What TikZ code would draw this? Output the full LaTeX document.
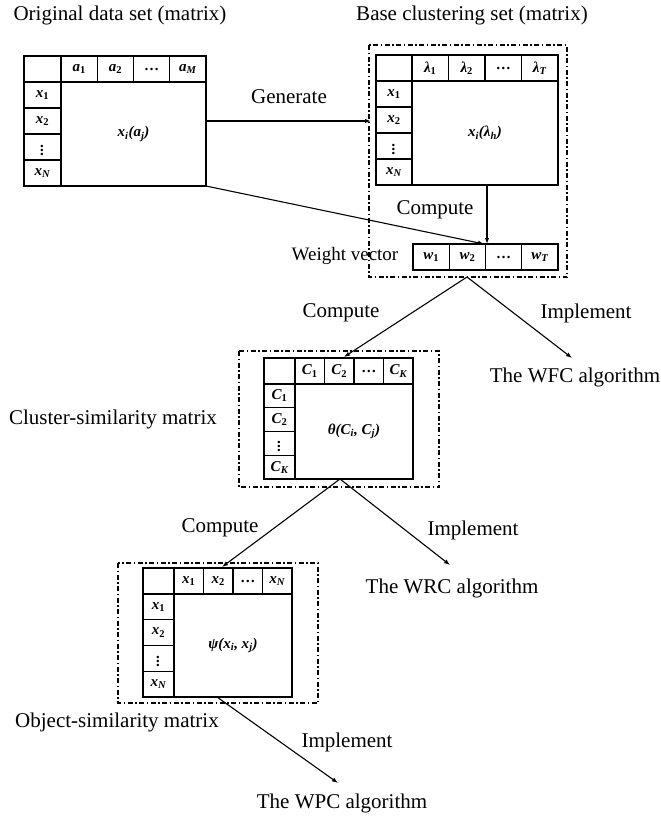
\documentclass[tikz,border=0pt]{standalone}
\usepackage{fontspec}
\setmainfont{Liberation Serif}
\usepackage{amsmath}
\usetikzlibrary{arrows.meta}
\tikzset{
 lbl/.style={font=\fontsize{21}{24}\selectfont, inner sep=0pt},
 cell/.style={font=\fontsize{15}{17}\selectfont\bfseries\itshape, inner sep=0pt},
 grid/.style={line width=1.1pt},
 dashbox/.style={line width=1.3pt, dash pattern=on 5pt off 2.5pt on 1.5pt off 2.5pt},
 conn/.style={line width=1.1pt, -{Latex[length=6pt,width=4.5pt]}},
}
\newcommand\mydots{\textbf{\upshape\textellipsis}}
\newcommand\ssb[1]{\textsubscript{#1}}
\newcommand\ssd[1]{\textsubscript{\upshape #1}}
\newcommand\vd{$\vdots$}
% #1 name, #2 left, #3 top, #4 header labels, #5 row labels
\newcommand\mgrid[5]{%
 \begin{scope}[shift={(#2,#3)}]
  \draw[grid] (0,0) rectangle ({\mgFW+4*\mgCW},{\mgHH+4*\mgRH});
  \draw[grid] (\mgFW,0) -- (\mgFW,{\mgHH+4*\mgRH});
  \draw[grid] (0,\mgHH) -- ({\mgFW+4*\mgCW},\mgHH);
  \foreach \k in {1,2,3} {
    \draw[grid] ({\mgFW+\k*\mgCW},0) -- ({\mgFW+\k*\mgCW},\mgHH);
    \draw[grid] (0,{\mgHH+\k*\mgRH}) -- (\mgFW,{\mgHH+\k*\mgRH});
  }
  \foreach \lab [count=\k] in {#4}
    \node[cell] (#1-h\k) at ({\mgFW+(\k-0.5)*\mgCW},{\mgHH/2}) {\lab};
  \foreach \lab [count=\k] in {#5}
    \node[cell] (#1-r\k) at ({\mgFW/2},{\mgHH+(\k-0.5)*\mgRH}) {\lab};
  \coordinate (#1-c) at ({\mgFW+2*\mgCW},{\mgHH+2*\mgRH});
  \coordinate (#1-nw) at (0,0);
  \coordinate (#1-se) at ({\mgFW+4*\mgCW},{\mgHH+4*\mgRH});
 \end{scope}}
\begin{document}
\begin{tikzpicture}[x=1pt,y=-1pt]
\useasboundingbox (0,0) rectangle (661,817);

% ---------- top-left matrix
\def\mgFW{37}\def\mgCW{36.25}\def\mgHH{26}\def\mgRH{26}
\mgrid{A}{24}{56}{{a\ssd{1}},{a\ssd{2}},{\mydots},{a\ssb{M}}}{{x\ssd{1}},{x\ssd{2}},{\vd},{x\ssb{N}}}
\node[cell] (Ac) at (A-c) {x\ssb{i}(a\ssb{j})};
\node[lbl] (tA) at (120,15) {Original data set (matrix)};

% ---------- top-right matrix
\def\mgFW{36}\def\mgCW{36.5}\def\mgHH{26}\def\mgRH{26}
\mgrid{B}{376}{55}{{λ\ssd{1}},{λ\ssd{2}},{\mydots},{λ\ssb{T}}}{{x\ssd{1}},{x\ssd{2}},{\vd},{x\ssb{N}}}
\node[cell] (Bc) at (B-c) {x\ssb{i}(λ\ssb{h})};
\node[lbl] (tB) at (472,15) {Base clustering set (matrix)};
\draw[dashbox] (369,45) rectangle (567,277);
\coordinate (Bbot) at (467,277);

% weight vector
\begin{scope}[shift={(413,244)}]
 \draw[grid] (0,0) rectangle (145,26);
 \foreach \k in {1,2,3} \draw[grid] ({\k*36.25},0) -- ({\k*36.25},26);
 \foreach \lab [count=\k] in {{w\ssd{1}},{w\ssd{2}},{\mydots},{w\ssb{T}}}
   \node[cell] (W\k) at ({(\k-0.5)*36.25},13) {\lab};
 \coordinate (Wa) at (71,0);
 \coordinate (Wb) at (74,0);
\end{scope}
\node[lbl, font=\fontsize{19}{22}\selectfont] (tW) at (345,256) {Weight vector};

% ---------- middle matrix
\def\mgFW{31}\def\mgCW{29.5}\def\mgHH{26}\def\mgRH{23.75}
\mgrid{C}{264}{358}{{C\ssd{1}},{C\ssd{2}},{\mydots},{C\ssb{K}}}{{C\ssd{1}},{C\ssd{2}},{\vd},{C\ssb{K}}}
\node[cell] (Cc) at (C-c) {θ(C\ssb{i}, C\ssb{j})};
\draw[dashbox] (239,351) rectangle (439,487);
\coordinate (Ctop) at (344,357);
\coordinate (Cbot) at (340,479);
\node[lbl] (tC) at (113,419) {Cluster-similarity matrix};

% ---------- bottom matrix
\def\mgFW{31}\def\mgCW{29.5}\def\mgHH{26}\def\mgRH{25.75}
\mgrid{D}{143}{568}{{x\ssd{1}},{x\ssd{2}},{\mydots},{x\ssb{N}}}{{x\ssd{1}},{x\ssd{2}},{\vd},{x\ssb{N}}}
\node[cell] (Dc) at (D-c) {ψ(x\ssb{i}, x\ssb{j})};
\draw[dashbox] (118,563) rectangle (318,703);
\coordinate (Dtop) at (222,567);
\coordinate (Dbot) at (217,697);
\node[lbl] (tD) at (117,722) {Object-similarity matrix};

% ---------- outcome labels
\node[lbl] (wfc) at (575,377) {The WFC algorithm};
\node[lbl] (wrc) at (452,588) {The WRC algorithm};
\node[lbl] (wpc) at (342,803) {The WPC algorithm};
\coordinate (wfcT) at (572,358);
\coordinate (wrcT) at (450,565);
\coordinate (wpcT) at (338,783);

% ---------- connectors
\coordinate (g1) at (206,121);
\coordinate (g2) at (371,121);
\draw[conn] (g1) -- (g2);
\node[lbl] (lGen) at (289,97) {Generate};
\coordinate (Bdown) at (487,185);
\draw[conn] (Bdown) -- (Wb);
\draw[conn] (A-se) -- (Wa);
\node[lbl] (lComp1) at (435,210) {Compute};

\draw[conn] (Bbot) -- (Ctop);
\draw[conn] (Bbot) -- (wfcT);
\node[lbl] (lComp2) at (341,313) {Compute};
\node[lbl] (lImp1) at (586,313) {Implement};

\draw[conn] (Cbot) -- (Dtop);
\draw[conn] (Cbot) -- (wrcT);
\node[lbl] (lComp3) at (220,528) {Compute};
\node[lbl] (lImp2) at (473,530) {Implement};

\draw[conn] (Dbot) -- (wpcT);
\node[lbl] (lImp3) at (347,742) {Implement};
\end{tikzpicture}
\end{document}
